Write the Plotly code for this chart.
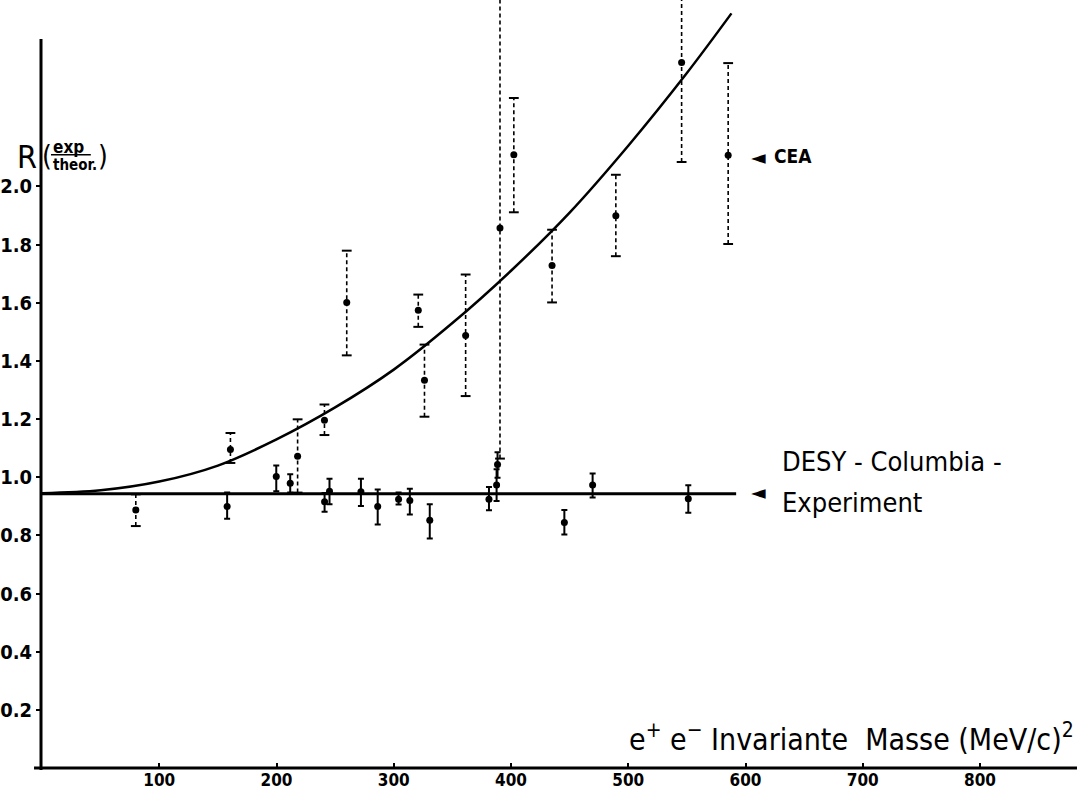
import plotly.graph_objects as go

# ---------------- data ----------------
# DESY-Columbia experiment (solid error bars)
desy_x = [157.9, 199.8, 211.7, 241.0, 245.2, 272.0, 286.3, 304.1, 313.7, 330.7,
          381.2, 387.7, 388.5, 445.5, 469.6, 551.2]
desy_y = [0.899, 1.002, 0.979, 0.916, 0.952, 0.950, 0.899, 0.924, 0.920, 0.852,
          0.924, 0.973, 1.044, 0.844, 0.973, 0.926]
desy_err_up = [0.048, 0.038, 0.031, 0.030, 0.043, 0.045, 0.059, 0.023, 0.040, 0.055,
               0.042, 0.054, 0.042, 0.043, 0.040, 0.046]
desy_err_dn = [0.042, 0.050, 0.032, 0.035, 0.045, 0.049, 0.062, 0.018, 0.048, 0.063,
               0.038, 0.055, 0.046, 0.041, 0.043, 0.048]

# CEA (dashed error bars)
cea_x = [80.0, 160.7, 218.0, 240.9, 259.9, 320.9, 326.2, 361.3, 390.6, 402.4,
         435.0, 489.4, 545.5, 585.2]
cea_y = [0.887, 1.095, 1.072, 1.196, 1.601, 1.574, 1.333, 1.487, 1.857, 2.109,
         1.728, 1.899, 2.426, 2.107]
cea_err_up = [0.054, 0.057, 0.127, 0.054, 0.178, 0.054, 0.123, 0.210, 0.840, 0.195,
              0.123, 0.141, 0.270, 0.317]
cea_err_dn = [0.055, 0.046, 0.125, 0.051, 0.182, 0.057, 0.125, 0.208, 0.793, 0.198,
              0.127, 0.139, 0.342, 0.305]

# theoretical curve
curve_x = [0, 50, 100, 150, 200, 250, 300, 350, 400, 450, 500, 550, 588]
curve_y = [0.945, 0.955, 0.985, 1.04, 1.13, 1.24, 1.37, 1.53, 1.71, 1.91, 2.14, 2.39, 2.595]

# DESY-Columbia level line
desy_line_x = [0, 592]
desy_line_y = [0.943, 0.943]

x_tickvals = [100, 200, 300, 400, 500, 600, 700, 800]
x_ticktext = ["100", "200", "300", "400", "500", "600", "700", "800"]
y_tickvals = [0.2, 0.4, 0.6, 0.8, 1.0, 1.2, 1.4, 1.6, 1.8, 2.0]
y_ticktext = ["0.2", "0.4", "0.6", "0.8", "1.0", "1.2", "1.4", "1.6", "1.8", "2.0"]

# ---------------- layout helpers ----------------
W, H = 1077, 790
L, R, T, B = 38, 2, 0, 21
PW, PH = W - L - R, H - T - B
FONT = "DejaVu Sans Condensed, Liberation Sans Narrow, DejaVu Sans, sans-serif"


def pxx(xp):
    return (xp - L) / PW


def pxy(yp):
    return (H - B - yp) / PH


fig = go.Figure()

# theory curve
fig.add_trace(go.Scatter(x=curve_x, y=curve_y, mode="lines",
                         line=dict(color="black", width=2.5, shape="spline"),
                         hoverinfo="skip", showlegend=False))
# DESY level line
fig.add_trace(go.Scatter(x=desy_line_x, y=desy_line_y, mode="lines",
                         line=dict(color="black", width=3),
                         hoverinfo="skip", showlegend=False))

# CEA dashed error bars
bx, by = [], []
for x, y, up, dn in zip(cea_x, cea_y, cea_err_up, cea_err_dn):
    bx += [x, x, None]
    by += [y - dn, y + up, None]
fig.add_trace(go.Scatter(x=bx, y=by, mode="lines",
                         line=dict(color="black", width=1.6, dash="4px,3px"),
                         hoverinfo="skip", showlegend=False))
# CEA caps
fig.add_trace(go.Scatter(x=cea_x + cea_x,
                         y=[y + u for y, u in zip(cea_y, cea_err_up)] +
                           [y - d for y, d in zip(cea_y, cea_err_dn)],
                         mode="markers",
                         marker=dict(symbol="line-ew-open", size=7, color="black",
                                     line=dict(color="black", width=2)),
                         hoverinfo="skip", showlegend=False))
# CEA points
fig.add_trace(go.Scatter(x=cea_x, y=cea_y, mode="markers",
                         marker=dict(color="black", size=7),
                         name="CEA", showlegend=False))

# DESY points with solid error bars
fig.add_trace(go.Scatter(x=desy_x, y=desy_y, mode="markers",
                         marker=dict(color="black", size=7),
                         error_y=dict(type="data", symmetric=False,
                                      array=desy_err_up, arrayminus=desy_err_dn,
                                      color="black", thickness=2, width=3),
                         name="DESY-Columbia", showlegend=False))

# axes drawn as shapes (y axis stops at 2.5)
shapes = [
    dict(type="line", xref="paper", yref="paper",
         x0=pxx(37), x1=pxx(37), y0=pxy(771), y1=pxy(39),
         line=dict(color="black", width=3)),
    dict(type="line", xref="paper", yref="paper",
         x0=pxx(30), x1=pxx(1077), y0=pxy(769), y1=pxy(769),
         line=dict(color="black", width=3)),
    # fraction bar in the y label
    dict(type="line", xref="paper", yref="paper",
         x0=pxx(47), x1=pxx(87), y0=pxy(155), y1=pxy(155),
         line=dict(color="black", width=1.5)),
]

annotations = [
    dict(text="R", x=pxx(23), y=pxy(157), xanchor="center", yanchor="middle",
         font=dict(size=32, family=FONT, color="black")),
    dict(text="(", x=pxx(43), y=pxy(157), xanchor="center", yanchor="middle",
         font=dict(size=28, family=FONT, color="black")),
    dict(text=")", x=pxx(99), y=pxy(157), xanchor="center", yanchor="middle",
         font=dict(size=28, family=FONT, color="black")),
    dict(text="<b>exp</b>", x=pxx(47), y=pxy(147), xanchor="left", yanchor="middle",
         font=dict(size=17, family=FONT, color="black")),
    dict(text="<b>theor.</b>", x=pxx(47), y=pxy(165), xanchor="left", yanchor="middle",
         font=dict(size=15, family=FONT, color="black")),
    # CEA label
    dict(text="◄", x=pxx(757), y=pxy(157), xanchor="center", yanchor="middle",
         font=dict(size=19, family="DejaVu Sans", color="black")),
    dict(text="<b>CEA</b>", x=pxx(771), y=pxy(156), xanchor="left", yanchor="middle",
         font=dict(size=19, family=FONT, color="black")),
    # DESY label
    dict(text="◄", x=pxx(757), y=pxy(493), xanchor="center", yanchor="middle",
         font=dict(size=19, family="DejaVu Sans", color="black")),
    dict(text="DESY - Columbia -", x=pxx(779), y=pxy(462), xanchor="left", yanchor="middle",
         font=dict(size=27, family=FONT, color="black")),
    dict(text="Experiment", x=pxx(779), y=pxy(503), xanchor="left", yanchor="middle",
         font=dict(size=27, family=FONT, color="black")),
    # x axis title
    dict(text="e<sup>+</sup> e<sup>\u2212</sup> Invariante  Masse (MeV/c)<sup>2</sup>",
         x=pxx(1076), y=pxy(738), xanchor="right", yanchor="middle",
         font=dict(size=30, family=FONT, color="black")),
]
for a in annotations:
    a.update(xref="paper", yref="paper", showarrow=False)

fig.update_layout(
    width=W, height=H,
    margin=dict(l=L, r=R, t=T, b=B, pad=0),
    paper_bgcolor="white", plot_bgcolor="white",
    font=dict(family=FONT, color="black"),
    shapes=shapes, annotations=annotations,
    showlegend=False,
    xaxis=dict(range=[0, 881], showline=False, showgrid=False, zeroline=False,
               ticks="inside", ticklen=5, tickwidth=2, tickcolor="black",
               tickvals=x_tickvals, ticktext=x_ticktext,
               tickfont=dict(size=17, family=FONT, color="black", weight="bold")),
    yaxis=dict(range=[0, 2.641], showline=False, showgrid=False, zeroline=False,
               ticks="outside", ticklen=5, tickwidth=2, tickcolor="black",
               tickvals=y_tickvals, ticktext=y_ticktext,
               tickfont=dict(size=20, family=FONT, color="black", weight="bold")),
)

fig.write_html("out.html")
